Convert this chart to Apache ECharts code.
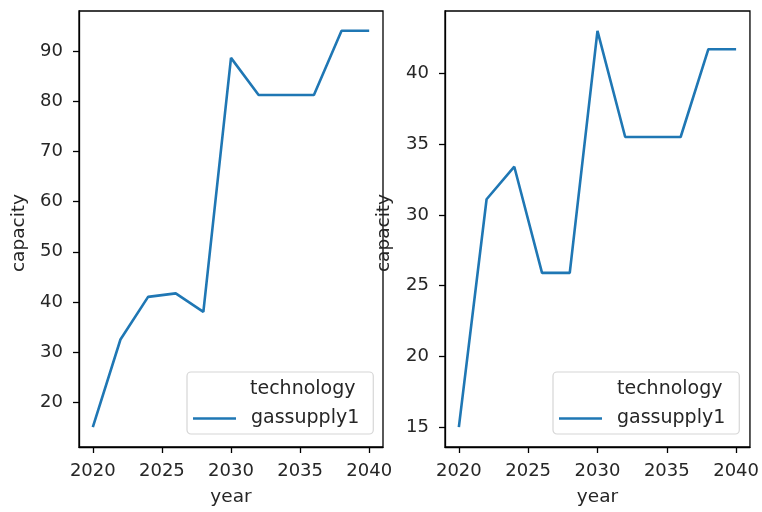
<!DOCTYPE html>
<html>
<head>
<meta charset="utf-8">
<script src="https://cdn.jsdelivr.net/npm/echarts@6/dist/echarts.min.js"></script>
<style>
  html, body { margin: 0; padding: 0; background: #fff; }
  #chart { width: 762px; height: 512px; }
</style>
</head>
<body>
<div id="chart"></div>
<script>
// Installed capacity of gassupply1 by year, two scenarios side by side
const years = [2020, 2022, 2024, 2026, 2028, 2030, 2032, 2034, 2036, 2038, 2040];
const capacityLeft = [15.0, 32.5, 41.0, 41.7, 38.0, 88.7, 81.3, 81.3, 81.3, 94.1, 94.1];
const capacityRight = [15.0, 31.1, 33.4, 25.9, 25.9, 43.0, 35.5, 35.5, 35.5, 41.7, 41.7];
const xTicks = [2020, 2025, 2030, 2035, 2040];
const yTicksLeft = [20, 30, 40, 50, 60, 70, 80, 90];
const yTicksRight = [15, 20, 25, 30, 35, 40];
const seriesName = 'gassupply1';
const legendTitle = 'technology';

const FONT = 'DejaVu Sans';
const TXT = '#262626';
const FS_TICK = 18;
const FS_NAME = 18.5;
const FS_LEG = 19;

// axis limits padded by 5% of the data span on each side
function padded(vals) {
  const lo = Math.min(...vals), hi = Math.max(...vals);
  const m = (hi - lo) * 0.05;
  return [lo - m, hi + m];
}

const grids = [
  { left: 79, top: 11, width: 304, height: 436 },
  { left: 445, top: 11, width: 305, height: 436 }
];

function xAxisFor(i) {
  const [lo, hi] = padded(years);
  return {
    type: 'value', gridIndex: i, min: lo, max: hi,
    name: 'year', nameLocation: 'middle', nameGap: 41,
    nameTextStyle: { fontFamily: FONT, fontSize: FS_NAME, color: TXT },
    axisLine: { show: true, lineStyle: { color: '#000', width: 1.3 } },
    axisTick: { show: true, length: 6, customValues: xTicks, lineStyle: { color: '#000', width: 1.3 } },
    axisLabel: {
      customValues: xTicks, margin: 15, fontFamily: FONT, fontSize: FS_TICK, color: TXT,
      formatter: v => String(v)
    },
    splitLine: { show: false }
  };
}

function yAxisFor(i, vals, ticks, gap) {
  const [lo, hi] = padded(vals);
  return {
    type: 'value', gridIndex: i, min: lo, max: hi,
    name: 'capacity', nameLocation: 'middle', nameGap: gap, nameRotate: 90,
    nameTextStyle: { fontFamily: FONT, fontSize: FS_NAME, color: TXT, padding: [0, 8, 0, 0] },
    axisLine: { show: true, lineStyle: { color: '#000', width: 1.3 } },
    axisTick: { show: true, length: 6, customValues: ticks, lineStyle: { color: '#000', width: 1.3 } },
    axisLabel: {
      customValues: ticks, margin: 16, fontFamily: FONT, fontSize: FS_TICK, color: TXT,
      formatter: v => String(v)
    },
    splitLine: { show: false }
  };
}

function lineSeries(i, vals) {
  return {
    type: 'line', name: seriesName, xAxisIndex: i, yAxisIndex: i,
    data: years.map((y, k) => [y, vals[k]]),
    symbol: 'none', silent: true, animation: false,
    lineStyle: { color: '#1f77b4', width: 2.6 },
    itemStyle: { color: '#1f77b4' }
  };
}

function legendFor(left) {
  return {
    left: left, top: 372, orient: 'vertical',
    data: [{ name: seriesName }],
    icon: 'rect', itemWidth: 43, itemHeight: 2.6,
    padding: [37, 14, 6, 6],
    backgroundColor: '#fff',
    borderColor: '#d6d6d6', borderWidth: 1.2, borderRadius: 4,
    selectedMode: false,
    itemStyle: { color: '#1f77b4' },
    textStyle: { fontFamily: FONT, fontSize: FS_LEG, color: TXT, padding: [0, 0, 0, 10] }
  };
}

function legendTitleText(x) {
  return {
    type: 'text', left: x, top: 380, z: 100,
    style: { text: legendTitle, fontFamily: FONT, fontSize: FS_LEG, fill: TXT }
  };
}

const chart = echarts.init(document.getElementById('chart'), null, { renderer: 'canvas' });
chart.setOption({
  backgroundColor: '#fff',
  animation: false,
  grid: grids.map(g => Object.assign({ show: true, borderColor: '#000', borderWidth: 1.3, backgroundColor: 'transparent' }, g)),
  xAxis: [xAxisFor(0), xAxisFor(1)],
  yAxis: [yAxisFor(0, capacityLeft, yTicksLeft, 50), yAxisFor(1, capacityRight, yTicksRight, 51)],
  series: [lineSeries(0, capacityLeft), lineSeries(1, capacityRight)],
  legend: [legendFor(187), legendFor(553)],
  graphic: [legendTitleText(250), legendTitleText(617)]
});
</script>
</body>
</html>
